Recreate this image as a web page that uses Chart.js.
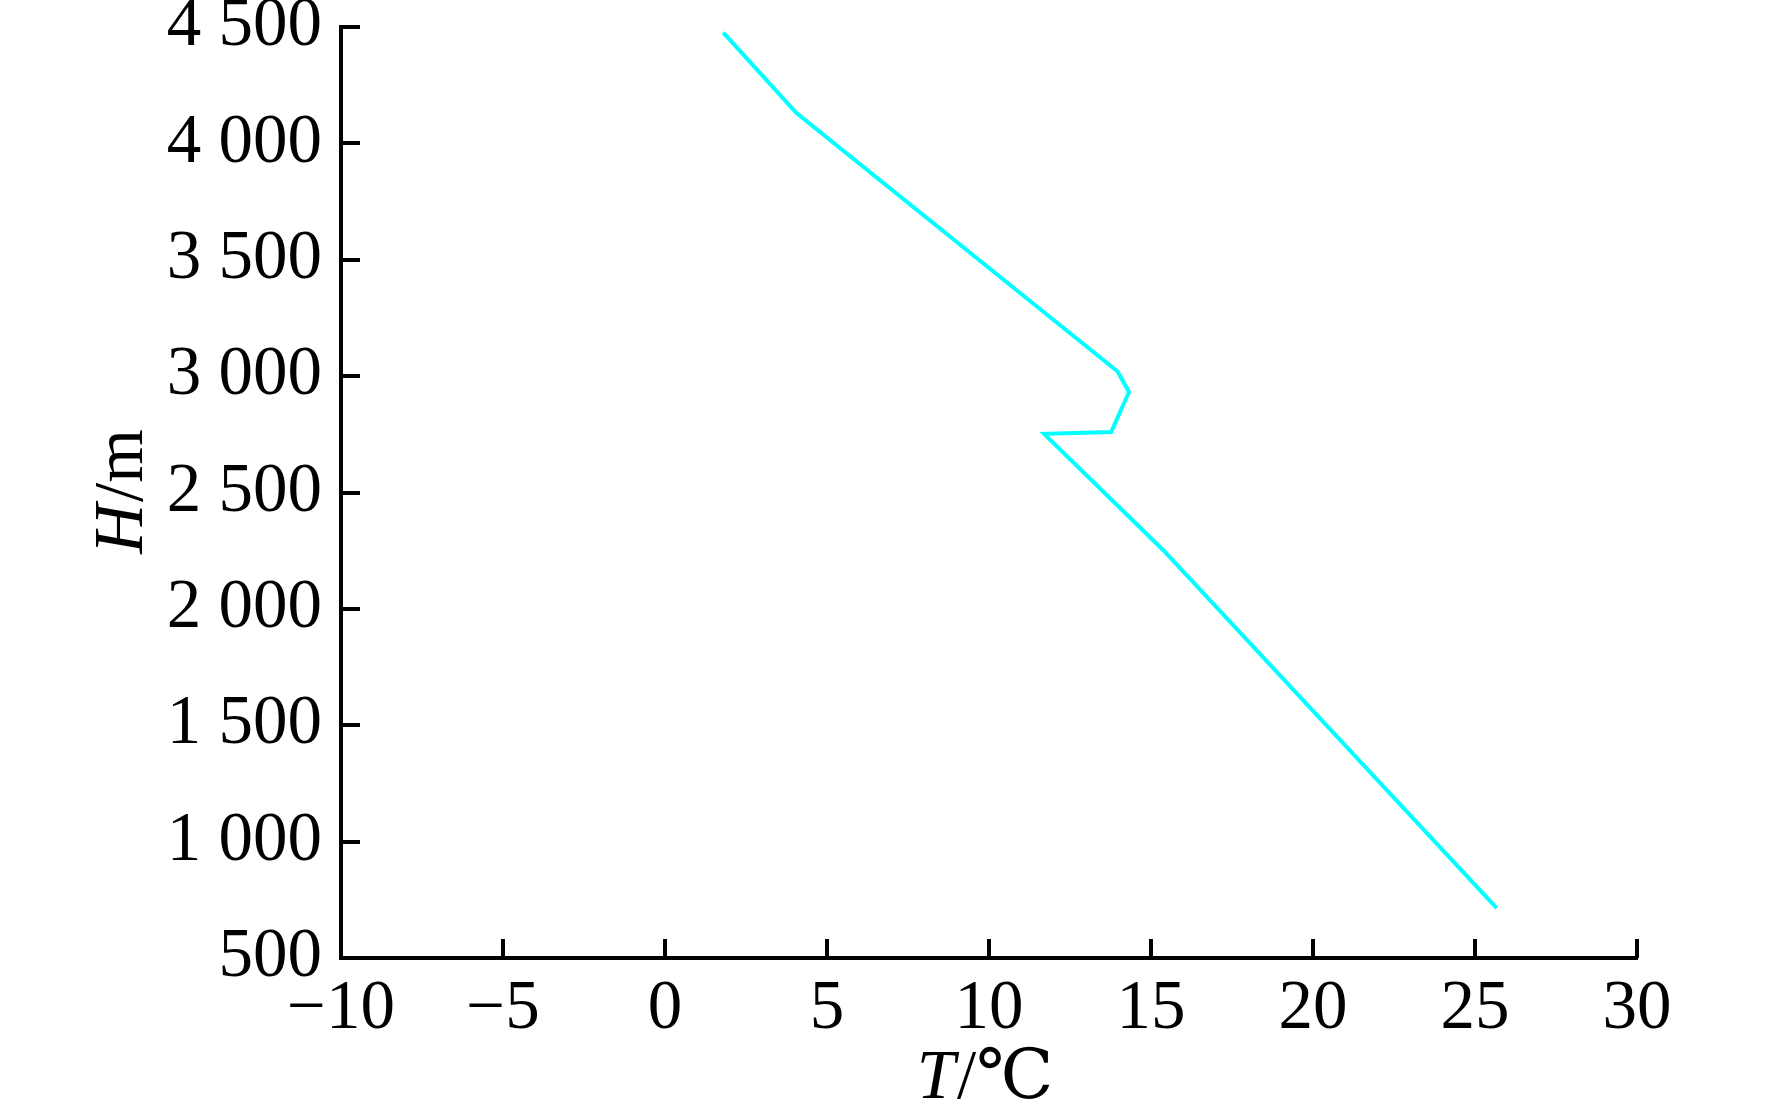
<!DOCTYPE html>
<html>
<head>
<meta charset="utf-8">
<script src="https://cdn.jsdelivr.net/npm/chart.js@4/dist/chart.umd.min.js"></script>
<style>
  html, body { margin: 0; padding: 0; background: #fff; }
  #wrap { width: 1772px; height: 1110px; position: relative; }
</style>
</head>
<body>
<div id="wrap"><canvas id="c" width="1772" height="1110"></canvas></div>
<script>
// ---- data ----
const temperatures = [1.8, 4.05, 13.97, 14.32, 13.77, 11.7, 15.38, 25.67];   // T / °C
const heights      = [4476, 4131, 3020, 2932, 2760, 2752, 2252, 714];        // H / m
const xTickValues  = [-10, -5, 0, 5, 10, 15, 20, 25, 30];
const yTickValues  = [500, 1000, 1500, 2000, 2500, 3000, 3500, 4000, 4500];
const xTitle = ['T', '/℃'];
const yTitle = ['H', '/m'];

const FONT_FAMILY = '"Liberation Serif", "Times New Roman", "DejaVu Serif", serif';
const FONT_SIZE = 69;

function fmtThousands(v) {
  const s = String(Math.abs(v));
  const out = s.length > 3 ? s.slice(0, s.length - 3) + ' ' + s.slice(s.length - 3) : s;
  return (v < 0 ? '\u2212' : '') + out;
}

const points = temperatures.map((t, i) => ({ x: t, y: heights[i] }));

const innerTicks = {
  id: 'innerTicks',
  afterDraw(chart) {
    const ctx = chart.ctx;
    const xs = chart.scales.x, ys = chart.scales.y;
    const len = 19;
    ctx.save();
    ctx.strokeStyle = '#000';
    ctx.lineWidth = 4;
    ctx.lineCap = 'butt';
    xTickValues.forEach(v => {
      const px = Math.round(xs.getPixelForValue(v));
      ctx.beginPath();
      ctx.moveTo(px, ys.bottom);
      ctx.lineTo(px, ys.bottom - len);
      ctx.stroke();
    });
    yTickValues.forEach(v => {
      const py = Math.round(ys.getPixelForValue(v));
      ctx.beginPath();
      ctx.moveTo(xs.left, py);
      ctx.lineTo(xs.left + len, py);
      ctx.stroke();
    });
    ctx.restore();
  }
};

function drawMixed(ctx, parts, cx, cy) {
  const italicFont = 'italic ' + FONT_SIZE + 'px ' + FONT_FAMILY;
  const normalFont = FONT_SIZE + 'px ' + FONT_FAMILY;
  ctx.font = italicFont;
  const w1 = ctx.measureText(parts[0]).width;
  ctx.font = normalFont;
  const w2 = ctx.measureText(parts[1]).width;
  const total = w1 + w2;
  let x = cx - total / 2;
  ctx.textBaseline = 'middle';
  ctx.textAlign = 'left';
  ctx.fillStyle = '#000';
  ctx.font = italicFont;
  ctx.fillText(parts[0], x, cy);
  ctx.font = normalFont;
  ctx.fillText(parts[1], x + w1 + 2, cy);
}

const axisTitles = {
  id: 'axisTitles',
  afterDraw(chart) {
    const ctx = chart.ctx;
    const xs = chart.scales.x, ys = chart.scales.y;
    ctx.save();
    drawMixed(ctx, xTitle, (xs.left + xs.right) / 2 - 5, 1080);
    ctx.translate(124, (ys.top + ys.bottom) / 2);
    ctx.rotate(-Math.PI / 2);
    drawMixed(ctx, yTitle, 0, 0);
    ctx.restore();
  }
};

new Chart(document.getElementById('c'), {
  type: 'line',
  data: {
    datasets: [{
      data: points,
      borderColor: '#00FFFF',
      borderWidth: 4,
      pointRadius: 0,
      tension: 0,
      fill: false
    }]
  },
  options: {
    responsive: false,
    animation: false,
    devicePixelRatio: 1,
    layout: { padding: { left: 0, top: 27, right: 135, bottom: 0 } },
    plugins: { legend: { display: false }, tooltip: { enabled: false }, title: { display: false } },
    scales: {
      x: {
        type: 'linear',
        min: -10, max: 30,
        afterBuildTicks(scale) { scale.ticks = xTickValues.map(v => ({ value: v })); },
        afterFit(scale) { scale.height = 152; scale.paddingLeft = 0; scale.paddingRight = 0; },
        grid: { display: true, drawOnChartArea: false, drawTicks: false },
        border: { display: true, color: '#000', width: 4 },
        ticks: {
          color: '#000',
          padding: 10,
          maxRotation: 0,
          font: { family: FONT_FAMILY, size: FONT_SIZE },
          callback: v => fmtThousands(v)
        },
        title: { display: false, text: xTitle.join('') }
      },
      y: {
        type: 'linear',
        min: 500, max: 4500,
        afterBuildTicks(scale) { scale.ticks = yTickValues.map(v => ({ value: v })); },
        afterFit(scale) { scale.width = 341; scale.paddingTop = 0; scale.paddingBottom = 0; },
        grid: { display: true, drawOnChartArea: false, drawTicks: false },
        border: { display: true, color: '#000', width: 4 },
        ticks: {
          color: '#000',
          padding: 19,
          font: { family: FONT_FAMILY, size: FONT_SIZE },
          callback: v => fmtThousands(v)
        },
        title: { display: false, text: yTitle.join('') }
      }
    }
  },
  plugins: [innerTicks, axisTitles]
});
</script>
</body>
</html>
